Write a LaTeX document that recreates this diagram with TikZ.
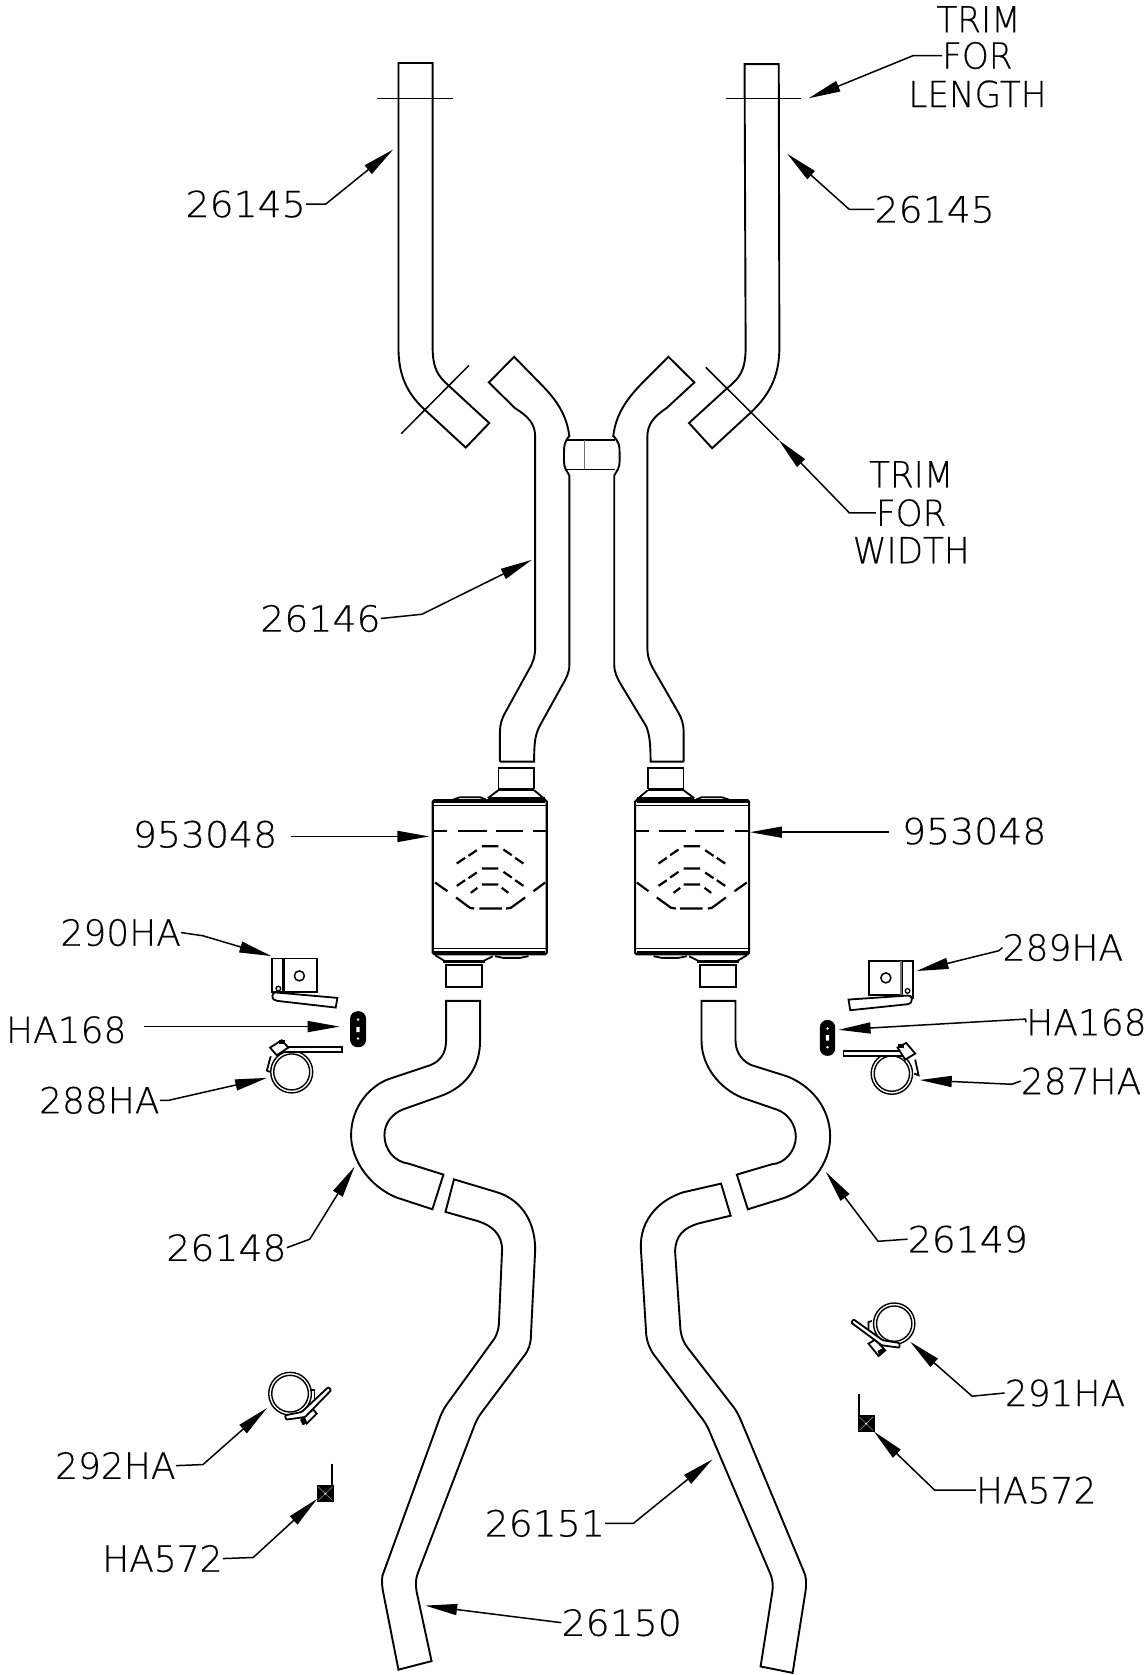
\documentclass[tikz,border=0pt]{standalone}
\usepackage{fontspec}
\usetikzlibrary{arrows.meta}
\newfontfamily\cadfont[FakeStretch=1.05,FakeBold=0.4]{DejaVu Sans ExtraLight}
\newfontfamily\cadmix[FakeStretch=1.0,FakeBold=0.4]{DejaVu Sans ExtraLight}
\newfontfamily\cadtxt[FakeStretch=0.95,FakeBold=0.4]{DejaVu Sans ExtraLight}
\tikzset{
 pipe/.style={line width=1.9pt,line join=miter},
 thin line/.style={line width=1.5pt},
 lead/.style={line width=1.5pt,-{Triangle[length=32pt,width=11pt]}},
 lbl/.style={font=\cadfont\fontsize{36}{38}\selectfont,inner sep=0pt,text=black},
 zoomed/.style={x=0.3333pt,y=-0.3333pt},
}
\newcommand\callout[6]{% name, text, label pos, start anchor, bend, tip
 \node[lbl] (#1) at (#3) {#2};
 \coordinate (#1b) at (#5);
 \coordinate (#1t) at (#6);
 \draw[lead] (#1.#4) -- (#1b) -- (#1t);
}
\newcommand\mufflerdraw{%
 \draw[line width=2.1pt,rounded corners=1.5pt] (38,180) rectangle (380,642);
 \draw[line width=1.2pt] (38,197)--(380,197) (38,625)--(380,625);
 \fill (42,178) rectangle (376,188);
 \fill (42,632) rectangle (376,642);
 \fill (205,170)--(375,170)--(375,182)--(205,182)--cycle;
 \draw[line width=1.8pt] (235,83) rectangle (342,145);
 \draw[line width=3pt] (235,149)--(342,149);
 \draw[line width=1.8pt] (235,150)--(203,174) (342,150)--(375,178);
 \draw[line width=1.8pt] (100,178)--(120,171)--(180,171)--(197,178);
 \draw[line width=1.8pt] (78,675) rectangle (185,740);
 \draw[line width=3pt] (70,665)--(195,665);
 \draw[line width=1.8pt] (45,645)--(78,665) (185,665)--(218,648);
 \draw[line width=1.8pt] (225,648)--(250,653)--(300,653)--(325,648);
 \draw[line width=2.2pt] (40,273)--(80,273) (115,273)--(200,273) (228,273)--(310,273) (338,273)--(378,273);
 \begin{scope}[line width=2.2pt]
 \draw (110,370)--(135,353) (145,347)--(170,330) (185,318)--(235,318) (250,328)--(275,345) (285,353)--(310,370);
 \draw (110,437)--(135,420) (145,414)--(170,397) (185,385)--(235,385) (250,395)--(275,412) (285,420)--(310,437);
 \draw (152,458)--(172,443) (185,433)--(235,433) (245,443)--(265,458);
 \draw (45,427)--(82,453) (108,472)--(150,503)--(162,505) (178,505)--(245,505) (258,505)--(272,503)--(315,472) (340,453)--(375,427);
 \end{scope}
}
\begin{document}
\begin{tikzpicture}[x=1.068pt,y=-1.068pt]
\useasboundingbox (0,0) rectangle (1073,1568);
\fill[white] (0,0) rectangle (1073,1568);

% top pipes
\draw[pipe] (373,59)--(405,59)--(405,325) .. controls (405,345) and (410,352) .. (420,361)
  --(458,396)--(436,419)--(397,383) .. controls (380,367) and (373,350) .. (373,325)--cycle;
\draw[pipe] (697,60)--(729,60)--(729.6,325) .. controls (729.6,350) and (722,368) .. (703,386)
  --(666.6,419.6)--(645,396)--(680,364) .. controls (692,354) and (698,348) .. (698,325)--cycle;
\draw[thin line] (353,92)--(424,92) (680,92)--(750,92);
\draw[thin line] (375.6,406)--(439,342) (660.7,343.8)--(729,412);

% middle pipes
\draw[pipe] (468,713)--(468,685) .. controls (468,678) and (470,672) .. (473,667)
  --(495,627) .. controls (499,620) and (501,615) .. (501,605)--(501,409)
  .. controls (501,397) and (495,390) .. (482,382)--(457.6,358)--(481.3,334)--(505.7,359)
  .. controls (522,375) and (531,390) .. (533,409);
\draw[pipe] (533,445)--(533,622) .. controls (533,630) and (530,635) .. (526,642)
  --(505,680) .. controls (501,688) and (500,695) .. (500,713)--(468,713);
\draw[pipe] (640,713)--(640,685) .. controls (640,678) and (638,672) .. (635,667)
  --(612,627) .. controls (608,620) and (606,615) .. (606,605)--(606,409)
  .. controls (606,397) and (612,390) .. (624,382)--(650,358)--(625.7,334)--(600.8,359)
  .. controls (585,375) and (576,390) .. (574,409);
\draw[pipe] (575,445)--(575,622) .. controls (575,630) and (578,635) .. (582,642)
  --(605,680) .. controls (608,688) and (609,695) .. (609,713)--(640,713);
% collar
\draw[pipe] (533,408) .. controls (528,414) and (528,418) .. (528,424) -- (528,432) .. controls (528,438) and (530,440) .. (533,445);
\draw[pipe] (574,408) .. controls (580,414) and (580,418) .. (580,424) -- (580,432) .. controls (580,438) and (578,440) .. (575,445);
\draw[thin line] (531,412)--(576,412) (531,439.5)--(576,439.5);
\draw[line width=1.5pt,black!55] (547,412)--(547,439.5);

% mufflers
\begin{scope}[shift={(420pt,-740pt)},zoomed]\mufflerdraw\end{scope}
\begin{scope}[shift={(761.67pt,-740pt)},x=-0.3333pt,y=-0.3333pt]\mufflerdraw\end{scope}

% lower pipes
\begin{scope}[shift={(340pt,-990pt)},zoomed]
\draw[pipe] (318,32)--(318,150) .. controls (318,195) and (295,215) .. (270,225) -- (150,265)
  .. controls (90,285) and (33,350) .. (33,435) .. controls (33,510) and (90,590) .. (170,622)
  -- (277,657) -- (310,553) -- (205,520) .. controls (165,515) and (133,480) .. (133,435)
  .. controls (133,400) and (155,370) .. (190,357) -- (300,318)
  .. controls (370,293) and (420,240) .. (420,150) -- (420,32) -- cycle;
\end{scope}
\begin{scope}[shift={(630pt,-990pt)},zoomed]
\draw[pipe] (214,32)--(214,150) .. controls (214,230) and (270,295) .. (335,322) -- (440,358)
  .. controls (475,370) and (497,405) .. (497,440) .. controls (497,480) and (465,520) .. (425,522)
  -- (320,553) -- (353,657) -- (450,627) .. controls (540,600) and (600,520) .. (600,440)
  .. controls (600,350) and (540,285) .. (470,258) -- (365,225)
  .. controls (340,215) and (316,190) .. (316,150) -- (316,32) -- cycle;
\end{scope}
\draw[pipe] (425,1104)--(417,1134.5)--(447,1143) .. controls (460,1147) and (470,1155) .. (470,1170)
  --(467,1240) .. controls (466,1248) and (464,1252) .. (460,1257)--(418,1315) .. controls (414,1321) and (412,1326) .. (410,1332)
  --(358,1475) .. controls (357,1480) and (358,1488) .. (359,1492)--(373,1563)--(404,1555)--(390,1490)
  .. controls (389,1484) and (389,1478) .. (391,1473)--(442,1340) .. controls (445,1332) and (447,1327) .. (451,1322)
  --(490,1270) .. controls (495,1264) and (497,1258) .. (497,1250)--(501,1170)
  .. controls (501,1140) and (485,1122) .. (465,1116)--cycle;
\draw[pipe] (675,1108)--(684,1138)--(655,1145) .. controls (640,1149) and (632,1157) .. (632,1172)
  --(637,1245) .. controls (638,1252) and (640,1257) .. (644,1262)--(685,1315) .. controls (690,1321) and (692,1326) .. (695,1333)
  --(752,1470) .. controls (755,1476) and (755,1482) .. (754,1490)--(742,1566)--(712,1560)--(723,1490)
  .. controls (724,1483) and (723,1478) .. (721,1473)--(665,1342) .. controls (662,1334) and (659,1330) .. (655,1325)
  --(612,1268) .. controls (608,1262) and (606,1257) .. (605,1250)--(600,1170)
  .. controls (598,1140) and (620,1122) .. (640,1116)--cycle;

% left hardware
\begin{scope}[shift={(240pt,-930pt)},zoomed]
 \draw[line width=1.8pt] (97,85) rectangle (230,185);
 \draw[line width=2.8pt] (130,85)--(130,185);
 \draw[line width=1.3pt] (115,175) circle[radius=7];
 \draw[line width=1.5pt] (178,137) circle[radius=15];
 \draw[line width=1.8pt,fill=white] (110,187) .. controls (100,186) and (97,190) .. (97,197) .. controls (97,207) and (103,211) .. (112,212) -- (287,232)--(292,203)--cycle;
 \fill[rounded corners=7.5pt] (330,243) rectangle (378,351);
 \fill[white] (354,268) circle[radius=4] (354,325) circle[radius=4] (349,290) rectangle (359,306);
 \draw[line width=1.8pt] (80,422)--(92,378) (80,422)--(92,425);
 \draw[line width=1.4pt] (155,425) circle[radius=63] (155,425) circle[radius=54];
 \draw[line width=1.6pt,fill=white] (130,350) rectangle (305,365);
 \draw[line width=1.8pt,fill=white] (90,352)--(125,330)--(145,352)--(110,375)--cycle;
 \fill (118,328) rectangle (135,340);
\end{scope}
% right hardware
\begin{scope}[shift={(800pt,-930pt)},zoomed]
 \draw[line width=1.8pt] (207,92) rectangle (305,195);
 \draw[line width=1.8pt] (305,92)--(338,92)--(338,205);
 \draw[line width=2.2pt,black!55] (303,92)--(303,195);
 \draw[line width=1.3pt] (322,182) circle[radius=7];
 \draw[line width=1.5pt] (257,143) circle[radius=15];
 \draw[line width=1.8pt,fill=white] (145,208)--(150,240)--(322,222) .. controls (332,220) and (336,214) .. (335,206) .. controls (334,198) and (330,195) .. (322,196)--cycle;
 \fill[rounded corners=7.5pt] (59,269) rectangle (105,377);
 \fill[white] (82,295) circle[radius=4] (82,351) circle[radius=4] (77,315) rectangle (87,331);
 \draw[line width=1.8pt] (345,388)--(355,435)--(342,430);
 \draw[line width=1.4pt] (275,430) circle[radius=62] (275,430) circle[radius=53];
 \draw[line width=1.6pt,fill=white] (130,362) rectangle (305,378);
 \draw[line width=1.8pt,fill=white] (292,352)--(318,338)--(345,370)--(315,388)--cycle;
 \fill (292,340) rectangle (310,352);
\end{scope}
% lower right clamp + clip
\begin{scope}[shift={(840pt,-1290pt)},zoomed]
 \draw[line width=1.8pt] (85,125)--(85,95)--(95,92);
 \draw[line width=1.4pt] (162,100) circle[radius=62] (162,100) circle[radius=53];
 \draw[line width=1.8pt,fill=white] (85,160)--(105,148)--(135,180)--(115,197)--cycle;
 \fill (112,182)--(130,172)--(136,182)--(118,198)--cycle;
 \draw[line width=1.8pt,fill=white,rounded corners=1pt] (40,87)--(128,150)--(178,158)--(178,172)--(125,165)--(33,97)--cycle;
 \draw[line width=2.2pt] (57,310)--(57,375);
 \fill (53,375) rectangle (103,425);
 \draw[black!45,line width=.6pt] (58,380)--(98,420) (98,380)--(58,420);
 \fill[white] (78,400) circle[radius=3];
\end{scope}
% lower left clamp + clip
\begin{scope}[shift={(250pt,-1360pt)},zoomed]
 \draw[line width=1.8pt] (180,90)--(193,90)--(193,115);
 \draw[line width=1.4pt] (120,100) circle[radius=64] (120,100) circle[radius=55];
 \draw[line width=1.8pt,fill=white] (155,172)--(190,148)--(200,160)--(170,190)--cycle;
 \fill (150,178)--(165,172)--(172,188)--(158,195)--cycle;
 \draw[line width=1.8pt,fill=white,rounded corners=1pt] (235,80)--(243,90)--(165,170)--(108,178)--(105,165)--(155,155)--cycle;
 \draw[line width=2.2pt] (246,310)--(246,375);
 \fill (200,375) rectangle (252,425);
 \draw[black!45,line width=.6pt] (205,380)--(247,420) (247,380)--(205,420);
 \fill[white] (226,400) circle[radius=3];
\end{scope}

% labels and leaders
\callout{a1}{26145}{230,191}{east}{305,191}{368,140}
\callout{a2}{26145}{875,196}{west}{795,196}{737,144}
\node[lbl] (t1) at (916,18) {\cadtxt TRIM};
\callout{t2}{\cadtxt FOR}{915,52}{west}{855,52}{757,92}
\node[lbl] (t3) at (915,88) {\cadtxt LENGTH};
\node[lbl] (w1) at (853,444) {\cadtxt TRIM};
\callout{w2}{\cadtxt FOR}{853,480}{west}{795,480}{729,412}
\node[lbl] (w3) at (853,515) {\cadtxt WIDTH};
\callout{b1}{26146}{300,579}{east}{395,575}{498,524}
\node[lbl] (m1) at (192,781) {953048};
\coordinate (m1s) at (272,783); \coordinate (m1t) at (402,783);
\draw[lead] (m1s) -- (m1t);
\node[lbl] (m2) at (912,778) {953048};
\coordinate (m2s) at (832,779); \coordinate (m2t) at (702,779);
\draw[lead] (m2s) -- (m2t);
\callout{c1}{\cadmix 290HA}{113,873}{east}{190,876}{254,895}
\callout{c2}{\cadmix 289HA}{995,887}{west}{935,890}{858,909}
\node[lbl] (d1) at (62,964) {\cadmix HA168};
\coordinate (d1s) at (135,961); \coordinate (d1t) at (318,961);
\draw[lead] (d1s) -- (d1t);
\callout{d2}{\cadmix HA168}{1017,957}{west}{960,954}{785,964}
\callout{e1}{\cadmix 288HA}{93,1030}{east}{158,1030}{250,1009}
\callout{e2}{\cadmix 287HA}{1012,1012}{west}{947,1015}{861,1011}
\callout{f1}{26148}{212,1168}{east}{290,1160}{332,1092}
\callout{f2}{26149}{906,1160}{west}{822,1162}{773,1097}
\callout{g1}{\cadmix 291HA}{997,1304}{west}{910,1307}{852,1256}
\callout{g2}{\cadmix 292HA}{108,1372}{east}{190,1371}{250,1318}
\callout{h1}{\cadmix HA572}{970,1395}{west}{875,1395}{818,1340}
\callout{h2}{\cadmix HA572}{152,1459}{east}{237,1458}{297,1403}
\callout{i1}{26151}{510,1426}{east}{593,1426}{667,1366}
\node[lbl] (i2) at (582,1519) {26150};
\coordinate (i2t) at (398,1503);
\draw[lead] (i2.west) -- (i2t);
\end{tikzpicture}
\end{document}
